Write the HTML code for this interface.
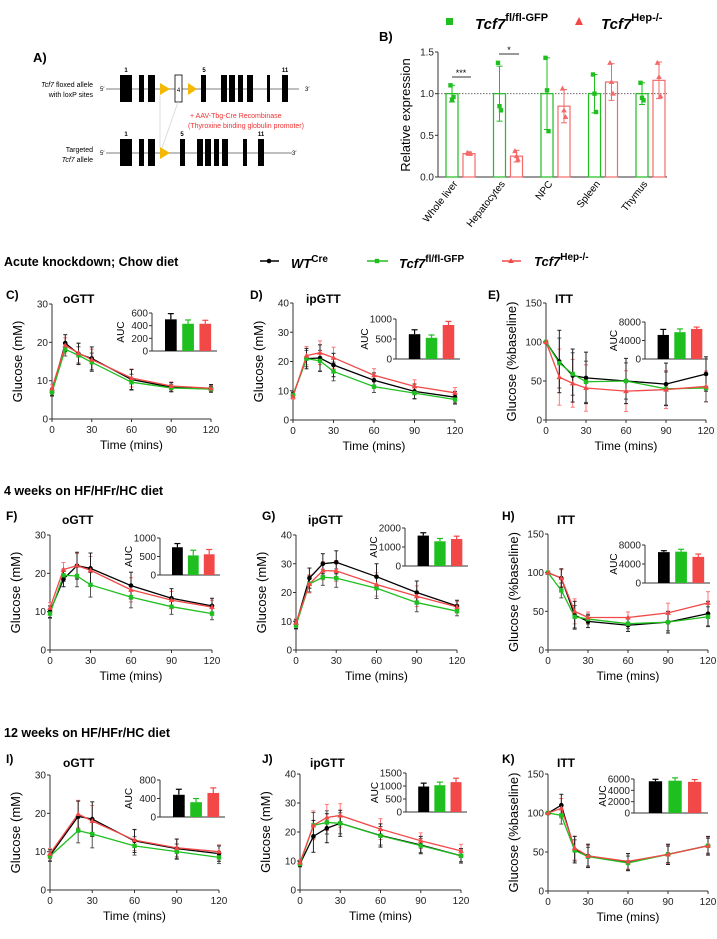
<!DOCTYPE html>
<html><head><meta charset="utf-8">
<style>
html,body{margin:0;padding:0;background:#fff;}
svg{display:block;font-family:"Liberation Sans",Arial,sans-serif;}
</style></head>
<body>
<svg id="fig" width="717" height="939" viewBox="0 0 717 939" xmlns="http://www.w3.org/2000/svg">
<!-- Panel A diagram -->
<g>
<text x="33" y="62" font-size="13" font-weight="bold">A)</text>
<line x1="106" y1="89" x2="299" y2="89" stroke="#aaa" stroke-width="1.5"/>
<rect x="120" y="75" width="12" height="27"/><rect x="139" y="75" width="5" height="27"/><rect x="148" y="75" width="7" height="27"/>
<polygon points="160,83 170,89 160,95" fill="#f5b800"/>
<rect x="175" y="75" width="7" height="27" fill="#fff" stroke="#000" stroke-width="0.8"/>
<polygon points="188,83 197,89 188,95" fill="#f5b800"/>
<rect x="201" y="75" width="5" height="27"/><rect x="221" y="75" width="6" height="27"/><rect x="229" y="75" width="6" height="27"/><rect x="238" y="75" width="5" height="27"/><rect x="247" y="75" width="6" height="27"/><rect x="267" y="75" width="3" height="27"/><rect x="282" y="75" width="6" height="27"/>
<g font-size="6" font-weight="bold"><text x="126" y="72" text-anchor="middle">1</text><text x="204" y="72" text-anchor="middle">5</text><text x="285" y="72" text-anchor="middle">11</text><text x="178.5" y="92" text-anchor="middle" font-weight="normal">4</text></g>
<text x="100" y="91" font-size="6">5′</text><text x="305" y="91" font-size="6">3′</text>
<text x="93" y="87" font-size="7" text-anchor="end"><tspan font-style="italic">Tcf7</tspan> floxed allele</text>
<text x="93" y="97" font-size="7" text-anchor="end">with loxP sites</text>
<line x1="160" y1="95" x2="160" y2="148" stroke="#ddd"/><line x1="178" y1="102" x2="162" y2="148" stroke="#ddd"/>
<text x="190" y="118" font-size="7" fill="#e33">+ AAV-Tbg-Cre Recombinase</text>
<text x="188" y="128" font-size="7" fill="#e33">(Thyroxine binding globulin promoter)</text>
<line x1="106" y1="153" x2="292" y2="153" stroke="#aaa" stroke-width="1.5"/>
<rect x="120" y="139" width="12" height="27"/><rect x="139" y="139" width="5" height="27"/><rect x="148" y="139" width="7" height="27"/>
<polygon points="160,147 170,153 160,159" fill="#f5b800"/>
<rect x="180" y="139" width="5" height="27"/><rect x="197" y="139" width="6" height="27"/><rect x="205" y="139" width="6" height="27"/><rect x="214" y="139" width="5" height="27"/><rect x="222" y="139" width="6" height="27"/><rect x="243" y="139" width="4" height="27"/><rect x="258" y="139" width="6" height="27"/>
<g font-size="6" font-weight="bold"><text x="126" y="136" text-anchor="middle">1</text><text x="182" y="136" text-anchor="middle">5</text><text x="261" y="136" text-anchor="middle">11</text></g>
<text x="100" y="155" font-size="6">5′</text><text x="292" y="155" font-size="6">3′</text>
<text x="93" y="152" font-size="7" text-anchor="end">Targeted</text>
<text x="93" y="162" font-size="7" text-anchor="end"><tspan font-style="italic">Tcf7</tspan> allele</text>
</g>
<g id="dyn"></g>
</svg>
<script>
// ---------- Panel B data ----------
const bCategories = ["Whole liver","Hepatocytes","NPC","Spleen","Thymus"];
const bGreenMean = [1,1,1,1,1];
const bGreenErr = [0.1,0.33,0.43,0.23,0.13];
const bGreenPts = [[1.1,0.93,0.96],[1.37,0.85,0.8],[1.43,1.04,0.55],[1.23,1.0,0.78],[1.13,0.95,0.92]];
const bRedMean = [0.28,0.25,0.85,1.14,1.16];
const bRedErr = [0.02,0.07,0.2,0.22,0.22];
const bRedPts = [[0.29,0.28,0.28],[0.31,0.25,0.21],[1.06,0.8,0.72],[1.37,1.14,1.0],[1.37,1.2,0.97]];
const bTicks = [0,0.5,1.0,1.5];

// ---------- GTT/ITT data ----------
const tFull = [0,10,20,30,60,90,120];
const tI = [0,20,30,60,90,120];
const cBlack=[7,19.8,17,15.8,10.3,8.3,8.0], cGreen=[7,18.2,16.6,14.8,9.6,8.1,7.8], cRed=[8,19.2,17.2,15.5,10.7,8.6,8.0];
const cErr=[1,2.2,2.8,3,2.6,1.2,1];
const cAuc=[500,430,430], cAucErr=[90,60,55];
const dBlack=[8.5,21,21.2,18.8,13.6,9.8,7.8], dGreen=[8.5,21,20.2,16.6,11.4,9.2,7.0], dRed=[8,22,23,21.3,15.3,11.5,9.3];
const dErr=[1,3.5,4.5,4,2.5,2.5,2];
const dAuc=[620,530,850], dAucErr=[110,70,90];
const eBlack=[100,75,57,54,50,46,59], eGreen=[100,73,59,49,50,40,41], eRed=[100,55,47,41,37,39,43];
const eErr=[2,40,34,33,29,27,22];
const eAuc=[5200,5800,6500], eAucErr=[1200,700,400];
const fBlack=[10,18.5,22,21.3,16.8,13.5,11.5], fGreen=[9.5,19.5,19.3,17,13.8,11.3,9.5], fRed=[11,21,22,20.8,15.7,13,11.2];
const fErr=[1.5,2,3.5,4,3.5,2.5,2];
const fAuc=[750,530,560], fAucErr=[100,140,130];
const gBlack=[9,25,30,30.5,25.5,20,15.3], gGreen=[8.5,23,25.3,25,21.5,16.5,13.5], gRed=[9.5,23,27.6,27.5,22.8,18.7,15];
const gErr=[1.5,3.5,3.5,4,4.5,4,2];
const gAuc=[1600,1300,1420], gAucErr=[150,150,150];
const hBlack=[100,93,45,37,32,36,47], hGreen=[100,77,43,40,34,36,43], hRed=[100,93,50,42,42,48,61];
const hErr=[2,12,18,8,8,14,16];
const hAuc=[6500,6600,5500], hAucErr=[300,500,600];
const iBlack=[9,19.2,18.5,12.8,10.8,9.5], iGreen=[8.8,15.5,14.6,11.5,10,8.5], iRed=[9.5,19.8,18,13,11,10];
const iErr=[1.5,4,4.5,3,2.5,2];
const iAuc=[480,320,520], iAucErr=[120,80,110];
const jBlack=[9,18.5,21.3,23,18.8,15.5,11.8], jGreen=[9,22.3,23.3,23,18.7,15.3,11.8], jRed=[9.5,22.3,25,25.7,21,17,13.5];
const jErr=[1,5.5,5,4.5,4,3,2.5];
const jAuc=[980,1030,1150], jAucErr=[130,120,150];
const kBlack=[100,110,53,45,37,47,58], kGreen=[100,97,52,44,36,47,58], kRed=[100,106,55,45,38,47,58];
const kErr=[2,14,17,15,11,13,12];
const kAuc=[5600,5700,5500], kAucErr=[350,500,400];
const gttTicks=[0,10,20,30], ipTicks=[0,10,20,30,40], ittTicks=[0,50,100,150], xTicks=[0,30,60,90,120];

const NS="http://www.w3.org/2000/svg";
const root=document.getElementById('dyn');
const BLK="#000", GRN="#1fbf1f", RED="#f24848";
function mk(tag,attrs,parent,text){const e=document.createElementNS(NS,tag);for(const k in attrs)e.setAttribute(k,attrs[k]);if(text!==undefined)e.textContent=text;(parent||root).appendChild(e);return e;}

function marker(g,kind,x,y,color){
  let m;
  if(kind==='c') m=mk('circle',{cx:x,cy:y,r:2.3,fill:color},g);
  else if(kind==='s') m=mk('rect',{x:x-2.2,y:y-2.2,width:4.4,height:4.4,fill:color},g);
  else m=mk('polygon',{points:`${x},${y-3} ${x-2.8},${y+2} ${x+2.8},${y+2}`,fill:color},g);
  
  
}

function panel(p){
  const g=mk('g',{});
  
  
  const sx=v=>p.x0+(v/120)*(p.x1-p.x0);
  const sy=v=>p.yb-(v/p.ymax)*(p.yb-p.yt);
  const lt=mk('text',{x:p.lx,y:p.ly,'font-size':12,'font-weight':'bold'},g,p.letter);
  
  
  const tt=mk('text',{x:p.tx,y:p.ly+4,'font-size':12,'font-weight':'bold'},g,p.title);
  
  
  mk('line',{x1:p.x0,y1:p.yt,x2:p.x0,y2:p.yb,stroke:'#333','stroke-width':1},g);
  mk('line',{x1:p.x0,y1:p.yb,x2:p.x1,y2:p.yb,stroke:'#333','stroke-width':1},g);
  p.yticks.forEach(v=>{mk('line',{x1:p.x0-3,y1:sy(v),x2:p.x0,y2:sy(v),stroke:'#333'},g);
    const t=mk('text',{x:p.x0-4,y:sy(v)+3.5,'font-size':10,'text-anchor':'end',fill:'#222'},g,String(v));
    });
  xTicks.forEach(v=>{mk('line',{x1:sx(v),y1:p.yb,x2:sx(v),y2:p.yb+3,stroke:'#333'},g);
    const t=mk('text',{x:sx(v),y:p.yb+14,'font-size':10,'text-anchor':'middle',fill:'#222'},g,String(v));
    });
  const xl=mk('text',{x:(p.x0+p.x1)/2,y:p.yb+30,'font-size':12,'text-anchor':'middle'},g,'Time (mins)');
  
  const yc=(p.yt+p.yb)/2, yx=p.x0-30;
  const yl=mk('text',{x:yx,y:yc,'font-size':13,'text-anchor':'middle',transform:`rotate(-90 ${yx} ${yc})`},g,p.ylabel);
  
  const series=[[p.red,RED,'t'],[p.green,GRN,'s'],[p.black,BLK,'c']];
  series.forEach(([vals,col,kind],si)=>{
    const errCol = col===BLK? '#222' : (col===GRN? '#555':'#f77');
    vals.forEach((v,i)=>{const x=sx(p.t[i]);const e=p.err[i]*(si===0?0.9:si===1?0.8:1);
      mk('line',{x1:x,y1:sy(v-e),x2:x,y2:sy(v+e),stroke:errCol,'stroke-width':1},g);
      mk('line',{x1:x-2,y1:sy(v+e),x2:x+2,y2:sy(v+e),stroke:errCol,'stroke-width':1},g);
      mk('line',{x1:x-2,y1:sy(v-e),x2:x+2,y2:sy(v-e),stroke:errCol,'stroke-width':1},g);});
  });
  series.slice().reverse().forEach(([vals,col,kind])=>{
    const pl=mk('polyline',{points:vals.map((v,i)=>sx(p.t[i])+','+sy(v)).join(' '),fill:'none',stroke:col,'stroke-width':1.3},g);
    
  });
  series.slice().reverse().forEach(([vals,col,kind])=>vals.forEach((v,i)=>marker(g,kind,sx(p.t[i]),sy(v),col)));
  // inset
  const q=p.inset, ig=mk('g',{},g);
  
  const w=q.x1-q.x0, iy=v=>q.yb-(v/q.max)*(q.yb-q.yt);
  mk('line',{x1:q.x0,y1:q.yt,x2:q.x0,y2:q.yb,stroke:'#333'},ig);
  mk('line',{x1:q.x0,y1:q.yb,x2:q.x1,y2:q.yb,stroke:'#333'},ig);
  q.ticks.forEach(v=>{mk('line',{x1:q.x0-3,y1:iy(v),x2:q.x0,y2:iy(v),stroke:'#333'},ig);
    const t=mk('text',{x:q.x0-4,y:iy(v)+3.5,'font-size':10,'text-anchor':'end',fill:'#222'},ig,String(v));
    });
  const ax=q.x0-(q.lab||28), ay=(q.yt+q.yb)/2;
  const at=mk('text',{x:ax,y:ay,'font-size':10,'text-anchor':'middle',transform:`rotate(-90 ${ax} ${ay})`},ig,'AUC');
  
  [BLK,GRN,RED].forEach((c,i)=>{const bx=q.x0+0.2*w+i*0.265*w, bw=0.18*w;
    const b=mk('rect',{x:bx,y:iy(q.vals[i]),width:bw,height:q.yb-iy(q.vals[i]),fill:c},ig);
    
    const top=iy(q.vals[i]+q.errs[i]);
    mk('line',{x1:bx+bw/2,y1:iy(q.vals[i]),x2:bx+bw/2,y2:top,stroke:c,'stroke-width':1.2},ig);
    mk('line',{x1:bx+bw/2-3,y1:top,x2:bx+bw/2+3,y2:top,stroke:c,'stroke-width':1.2},ig);});
}

const G="Glucose (mM)", P="Glucose (%baseline)";
panel({name:'panel-c-ogtt',letter:'C)',title:'oGTT',lx:6,ly:299,tx:63,x0:52,x1:211,yt:304,yb:419,ymax:30,yticks:gttTicks,ylabel:G,t:tFull,black:cBlack,green:cGreen,red:cRed,err:cErr,
  inset:{x0:152,x1:217,yt:313,yb:351,max:600,ticks:[0,200,400,600],vals:cAuc,errs:cAucErr}});
panel({name:'panel-d-ipgtt',letter:'D)',title:'ipGTT',lx:250,ly:299,tx:306,x0:293,x1:455,yt:303,yb:420,ymax:40,yticks:ipTicks,ylabel:G,t:tFull,black:dBlack,green:dGreen,red:dRed,err:dErr,
  inset:{x0:396,x1:460,yt:319,yb:359,max:1000,ticks:[0,500,1000],vals:dAuc,errs:dAucErr}});
panel({name:'panel-e-itt',letter:'E)',title:'ITT',lx:488,ly:299,tx:555,x0:546,x1:706,yt:303,yb:420,ymax:150,yticks:ittTicks,ylabel:P,t:tFull,black:eBlack,green:eGreen,red:eRed,err:eErr,
  inset:{x0:645,x1:708,yt:322,yb:359,max:8000,ticks:[0,4000,8000],vals:eAuc,errs:eAucErr}});
panel({name:'panel-f-ogtt',letter:'F)',title:'oGTT',lx:6,ly:520,tx:62,x0:50,x1:212,yt:535,yb:650,ymax:30,yticks:gttTicks,ylabel:G,t:tFull,black:fBlack,green:fGreen,red:fRed,err:fErr,
  inset:{x0:160,x1:220,yt:538,yb:575,max:1000,ticks:[0,500,1000],vals:fAuc,errs:fAucErr}});
panel({name:'panel-g-ipgtt',letter:'G)',title:'ipGTT',lx:262,ly:520,tx:308,x0:296,x1:457,yt:535,yb:650,ymax:40,yticks:ipTicks,ylabel:G,t:tFull,black:gBlack,green:gGreen,red:gRed,err:gErr,
  inset:{x0:405,x1:468,yt:528,yb:566,max:2000,ticks:[0,1000,2000],vals:gAuc,errs:gAucErr}});
panel({name:'panel-h-itt',letter:'H)',title:'ITT',lx:502,ly:520,tx:557,x0:548,x1:708,yt:534,yb:650,ymax:150,yticks:ittTicks,ylabel:P,t:tFull,black:hBlack,green:hGreen,red:hRed,err:hErr,
  inset:{x0:645,x1:710,yt:545,yb:583,max:8000,ticks:[0,4000,8000],vals:hAuc,errs:hAucErr}});
panel({name:'panel-i-ogtt',letter:'I)',title:'oGTT',lx:6,ly:763,tx:63,x0:50,x1:219,yt:775,yb:890,ymax:30,yticks:gttTicks,ylabel:G,t:tI,black:iBlack,green:iGreen,red:iRed,err:iErr,
  inset:{x0:160,x1:225,yt:780,yb:817,max:800,ticks:[0,400,800],vals:iAuc,errs:iAucErr}});
panel({name:'panel-j-ipgtt',letter:'J)',title:'ipGTT',lx:262,ly:763,tx:310,x0:300,x1:461,yt:774,yb:890,ymax:40,yticks:ipTicks,ylabel:G,t:tFull,black:jBlack,green:jGreen,red:jRed,err:jErr,
  inset:{x0:406,x1:467,yt:773,yb:812,max:1500,ticks:[0,500,1000,1500],vals:jAuc,errs:jAucErr}});
panel({name:'panel-k-itt',letter:'K)',title:'ITT',lx:502,ly:763,tx:557,x0:548,x1:708,yt:774,yb:891,ymax:150,yticks:ittTicks,ylabel:P,t:tFull,black:kBlack,green:kGreen,red:kRed,err:kErr,
  inset:{x0:634,x1:708,yt:779,yb:813,max:6000,ticks:[0,2000,4000,6000],vals:kAuc,errs:kAucErr}});

// Section headings & legend
[["Acute knockdown; Chow diet",4,266],["4 weeks on HF/HFr/HC diet",4,495],["12 weeks on HF/HFr/HC diet",4,737]].forEach(([s,x,y])=>{
  const t=mk('text',{x:x,y:y,'font-size':12.5,'font-weight':'bold'},root,s);
  });
const lg=mk('g',{});

mk('line',{x1:260,y1:261,x2:279,y2:261,stroke:BLK,'stroke-width':1.5},lg);marker(lg,'c',269,261,BLK);
const l1=mk('text',{x:291,y:268,'font-size':13,'font-weight':'bold','font-style':'italic'},lg);l1.innerHTML='WT<tspan font-style="normal" font-size="10" dy="-6">Cre</tspan>';
mk('line',{x1:367,y1:261,x2:388,y2:261,stroke:GRN,'stroke-width':1.5},lg);marker(lg,'s',377,261,GRN);
const l2=mk('text',{x:399,y:268,'font-size':13,'font-weight':'bold','font-style':'italic'},lg);l2.innerHTML='Tcf7<tspan font-style="normal" font-size="10" dy="-6">fl/fl-GFP</tspan>';
mk('line',{x1:502,y1:261,x2:521,y2:261,stroke:RED,'stroke-width':1.5},lg);marker(lg,'t',511,261,RED);
const l3=mk('text',{x:534,y:266,'font-size':13,'font-weight':'bold','font-style':'italic'},lg);l3.innerHTML='Tcf7<tspan font-style="normal" font-size="10" dy="-6">Hep-/-</tspan>';

// Panel B
(function(){
  const g=mk('g',{});
  
  const x0=438,x1=667,yt=52,yb=177,ymax=1.5;
  const sy=v=>yb-(v/ymax)*(yb-yt);
  mk('text',{x:379,y:41,'font-size':13,'font-weight':'bold'},g,'B)');
  mk('line',{x1:x0,y1:yt,x2:x0,y2:yb,stroke:'#333'},g);
  mk('line',{x1:x0,y1:yb,x2:x1,y2:yb,stroke:'#333'},g);
  mk('line',{x1:x0,y1:sy(1),x2:x1,y2:sy(1),stroke:'#555','stroke-dasharray':'1.5,1.5','stroke-width':0.8},g);
  bTicks.forEach(v=>{mk('line',{x1:x0-3,y1:sy(v),x2:x0,y2:sy(v),stroke:'#333'},g);
    const t=mk('text',{x:x0-4,y:sy(v)+3.5,'font-size':10,'text-anchor':'end',fill:'#222'},g,v.toFixed(1));
    });
  const yt2=mk('text',{x:410,y:115,'font-size':13,'text-anchor':'middle',transform:'rotate(-90 410 115)'},g,'Relative expression');
  
  const step=47.5, first=460, bw=12;
  bCategories.forEach((c,i)=>{
    const cx=first+i*step;
    const gx=cx-14, rx=cx+3;
    [[gx,bGreenMean[i],bGreenErr[i],bGreenPts[i],GRN,'s'],[rx,bRedMean[i],bRedErr[i],bRedPts[i],'#f36a6a','t']].forEach(([bx,m,e,pts,col,k])=>{
      const r=mk('rect',{x:bx,y:sy(m),width:bw,height:yb-sy(m),fill:'none',stroke:col,'stroke-width':1.2},g);
      
      const mx=bx+bw/2;
      mk('line',{x1:mx,y1:sy(m-e),x2:mx,y2:sy(m+e),stroke:col,'stroke-width':1},g);
      mk('line',{x1:mx-3,y1:sy(m+e),x2:mx+3,y2:sy(m+e),stroke:col},g);
      mk('line',{x1:mx-3,y1:sy(m-e),x2:mx+3,y2:sy(m-e),stroke:col},g);
      pts.forEach((v,j)=>marker(g,k,mx+(j-1)*1.5,sy(v),col));
    });
    const lx=cx-2, ly=184;
    const t=mk('text',{x:lx,y:ly,'font-size':10,'text-anchor':'end',transform:`rotate(-52 ${lx} ${ly})`},g,c);
    
  });
  mk('line',{x1:452,y1:77,x2:471,y2:77,stroke:'#333'},g);mk('text',{x:461,y:76,'font-size':9,'text-anchor':'middle'},g,'***');
  mk('line',{x1:499,y1:54,x2:519,y2:54,stroke:'#333'},g);mk('text',{x:509,y:53,'font-size':9,'text-anchor':'middle'},g,'*');
  const lgb=mk('g',{},g);
  
  mk('rect',{x:446,y:18,width:7,height:7,fill:GRN},lgb);
  const a=mk('text',{x:475,y:29,'font-size':15,'font-weight':'bold','font-style':'italic'},lgb);a.innerHTML='Tcf7<tspan font-style="normal" font-size="11" dy="-8">fl/fl-GFP</tspan>';
  mk('polygon',{points:'579,17 575,25 583,25',fill:RED},lgb);
  const b=mk('text',{x:601,y:29,'font-size':15,'font-weight':'bold','font-style':'italic'},lgb);b.innerHTML='Tcf7<tspan font-style="normal" font-size="11" dy="-8">Hep-/-</tspan>';
})();
</script>
</body></html>
